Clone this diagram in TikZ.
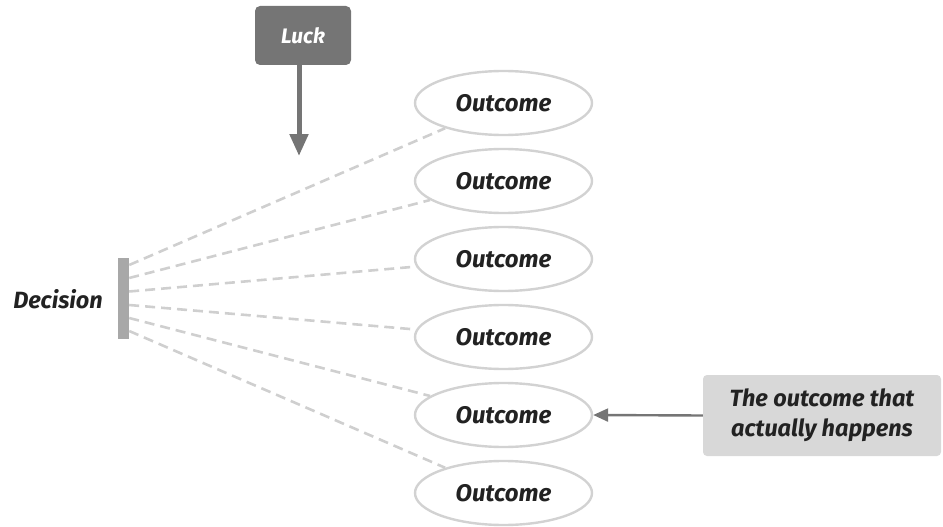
\documentclass[tikz,border=0pt]{standalone}
\usepackage{fontspec}
\setmainfont{Fira Sans}
\usetikzlibrary{shapes.geometric,arrows.meta}
\definecolor{txt}{HTML}{222222}
\definecolor{dark}{HTML}{757575}
\definecolor{bar}{HTML}{A8A8A8}
\definecolor{dash}{HTML}{CFCFCF}
\definecolor{ell}{HTML}{D2D2D2}
\definecolor{note}{HTML}{D8D8D8}
\tikzset{
  outc/.style={ellipse, draw=ell, line width=2.4pt, minimum width=177pt, minimum height=64pt, inner sep=0pt,
    font=\fontsize{24}{28}\selectfont\bfseries\itshape, text=txt},
  dl/.style={draw=dash, line width=2.6pt, dash pattern=on 10pt off 6pt},
}
\begin{document}
\begin{tikzpicture}[x=1pt,y=-1pt]
\useasboundingbox (0,0) rectangle (943,527);
% Luck box
\node[fill=dark, rounded corners=5pt, minimum width=96pt, minimum height=59pt, inner sep=0pt,
  text=white, font=\fontsize{21}{25}\selectfont\bfseries\itshape] (luck) at (303,35.5) {Luck};
\coordinate (lucktip) at (299,156);
\draw[dark, line width=5pt, -{Triangle[length=22pt,width=18pt]}] (luck.south -| lucktip) -- (lucktip);
% decision bar
\node[fill=bar, minimum width=11pt, minimum height=81pt, inner sep=0pt] (bar) at (123.5,298.5) {};
\node[font=\fontsize{23.5}{28}\selectfont\bfseries\itshape, text=txt] (dec) at (58,299) {Decision};
% outcomes
\foreach \i/\y in {1/103,2/181,3/259,4/337,5/415,6/493}{
  \node[outc] (o\i) at (503.5,\y) {Outcome};
}
\foreach \i/\y in {1/265,2/278,3/291.5,4/305,5/318,6/331}{
  \coordinate (s\i) at (bar.east |- 0,\y);
  \draw[dl] (s\i) -- (o\i);
}
% note box
\node[fill=note, rounded corners=4pt, minimum width=238pt, minimum height=81pt, inner sep=0pt,
  align=center, text=txt, font=\fontsize{23.5}{30}\selectfont\bfseries\itshape] (note) at (822,415.5)
  {The outcome that\\actually happens};
\draw[dark, line width=2.4pt, -{Triangle[length=15pt,width=13pt]}] (note.west) -- (o5.east);
\end{tikzpicture}
\end{document}
